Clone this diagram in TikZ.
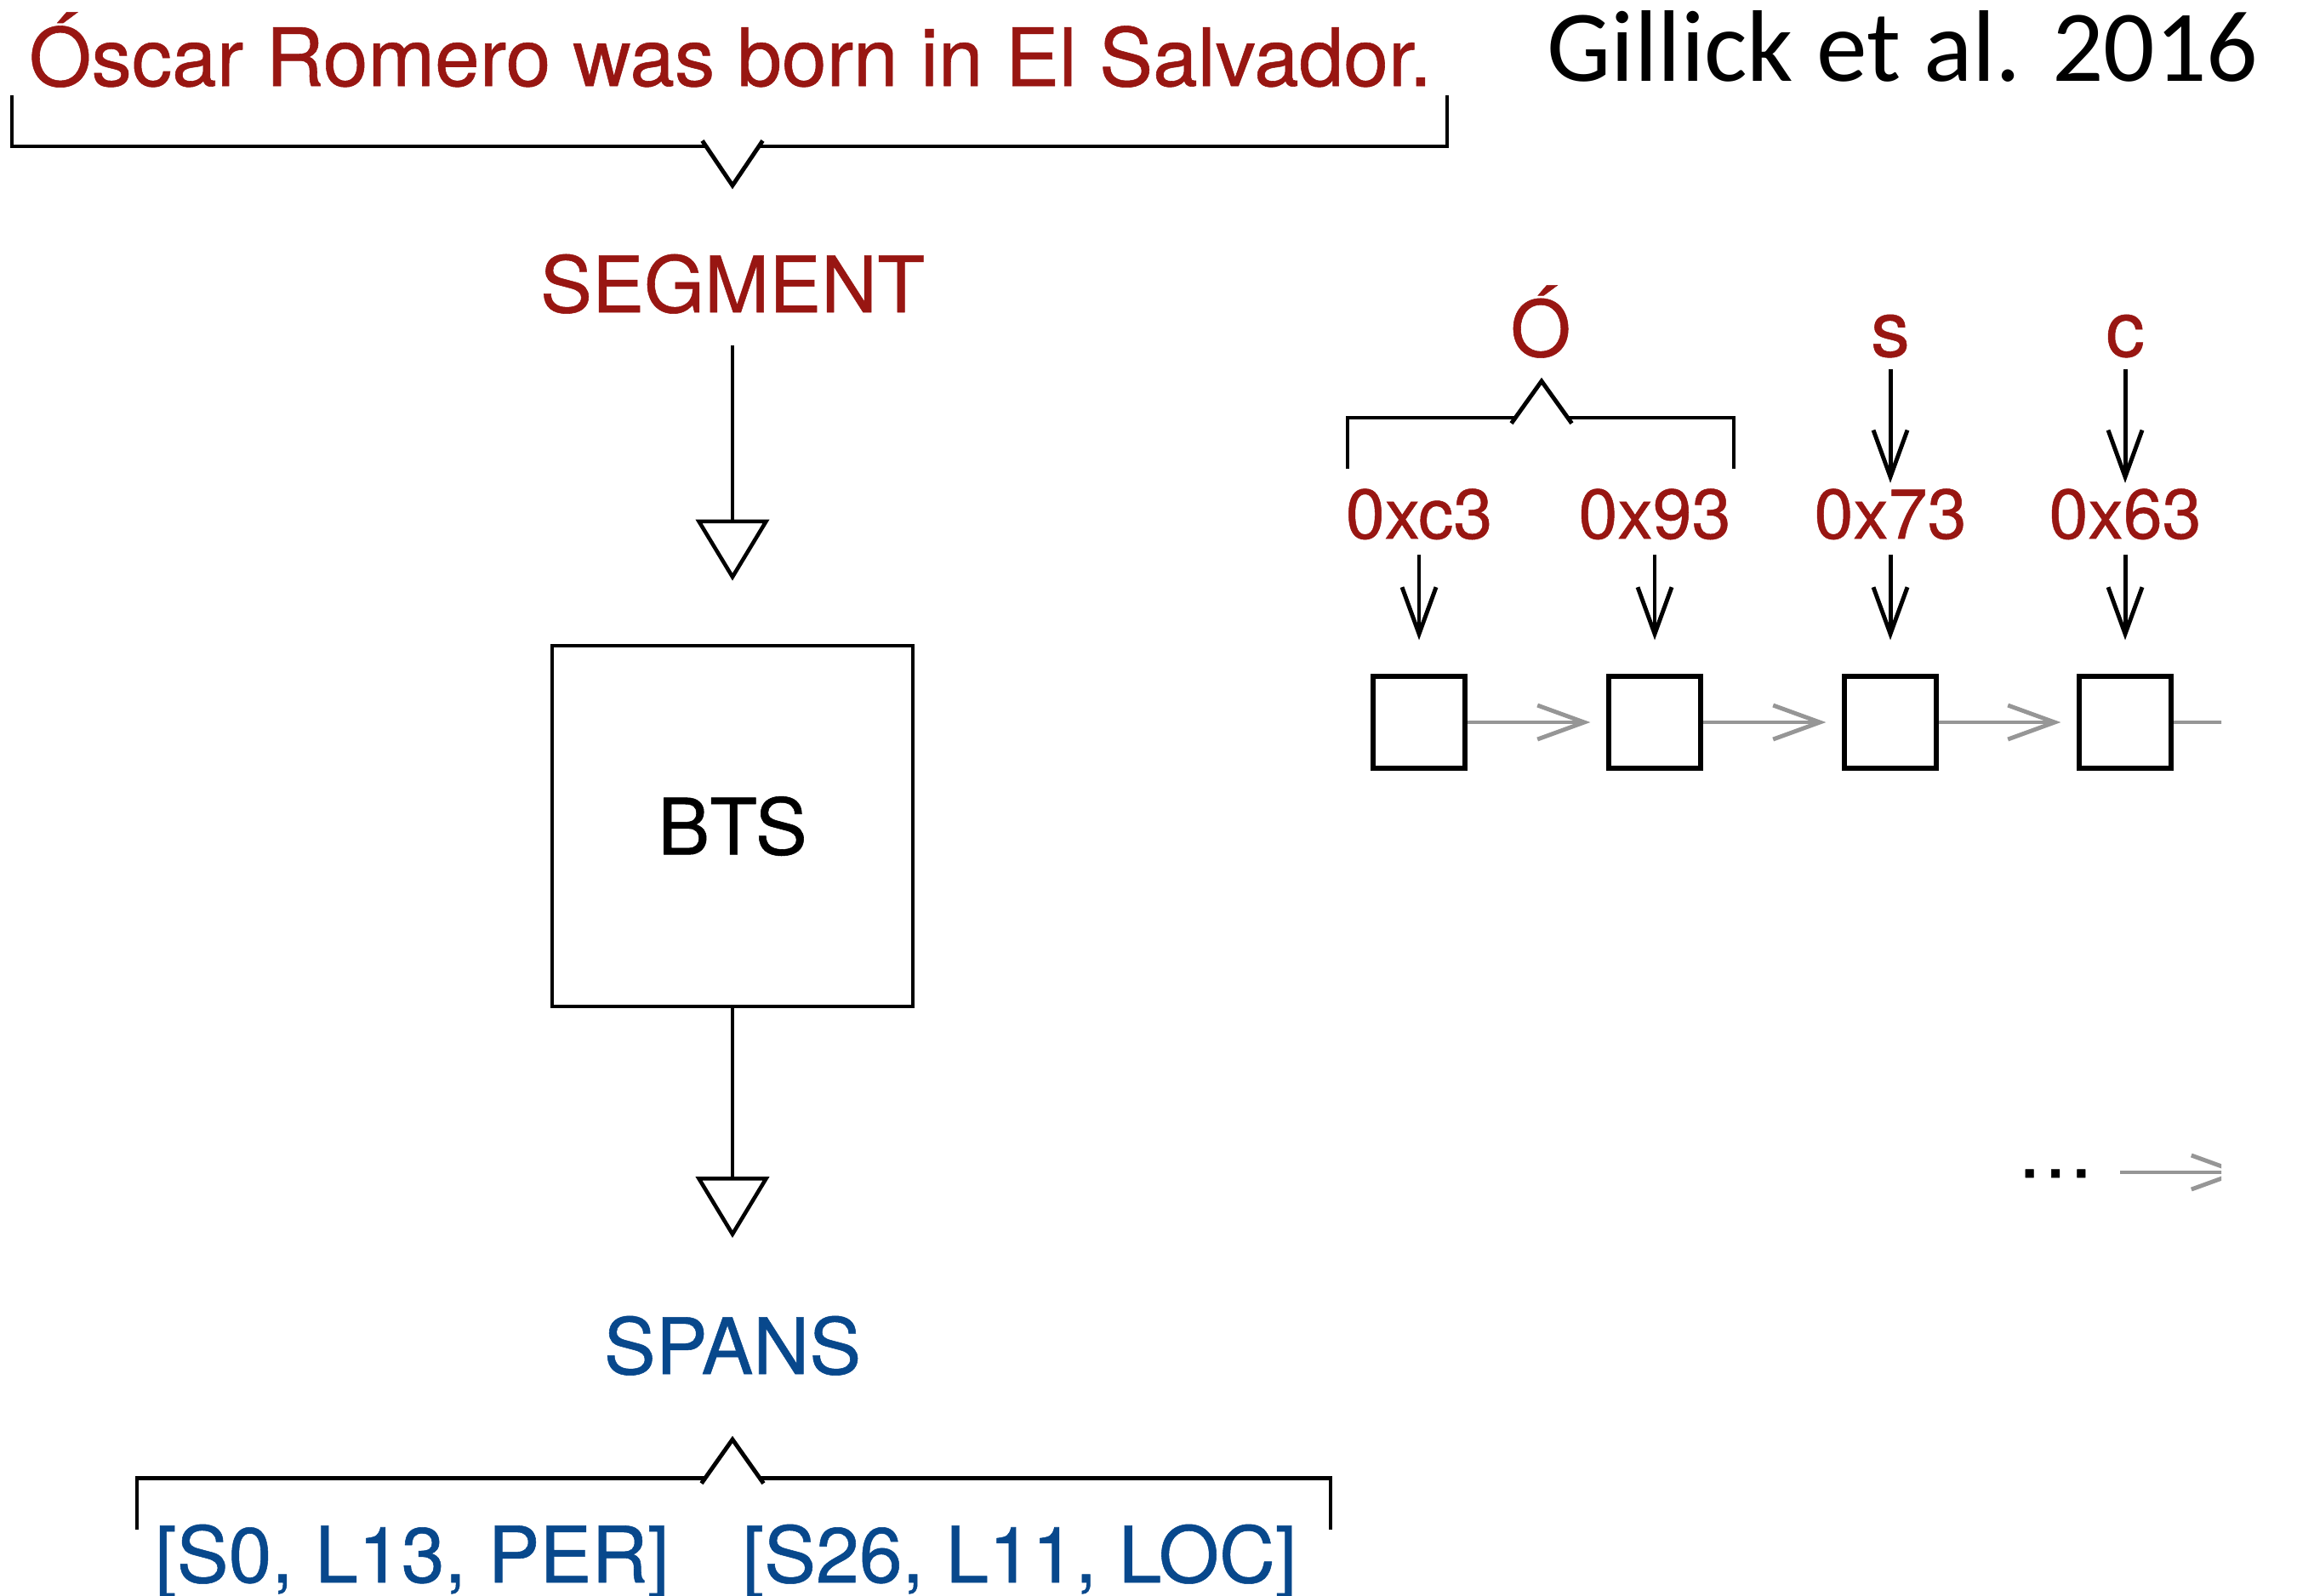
\documentclass[tikz,border=0pt]{standalone}
\usepackage{fontspec}
\setmainfont{TeX Gyre Heros}[FakeBold=0.6]
\newfontfamily\citefont{Carlito}
\usepackage{xcolor}
\usepackage{tikz}
\usetikzlibrary{arrows.meta}

\definecolor{segred}{RGB}{152,22,18}
\definecolor{spanblue}{RGB}{8,72,140}
\definecolor{linkgray}{RGB}{150,150,150}

\begin{document}
\begin{tikzpicture}[
    redtxt/.style={text=segred, inner sep=0pt, anchor=base, font=\fontsize{26}{30}\selectfont},
    bluetxt/.style={text=spanblue, inner sep=0pt, anchor=base, font=\fontsize{26}{30}\selectfont},
    hextxt/.style={text=segred, inner sep=0pt, anchor=base, font=\fontsize{23.5}{28}\selectfont},
    model/.style={rectangle, draw=black, line width=1.4pt, minimum size=4.24cm, inner sep=0pt, font=\fontsize{26}{30}\selectfont},
    cell/.style={rectangle, draw=black, line width=1.5pt, minimum size=1.08cm, inner sep=0pt},
    bracket/.style={draw=black, line width=1.4pt},
    flow/.style={-{Triangle[open, length=0.72cm, width=0.86cm]}, line width=1.3pt},
    byte/.style={-{Straight Barb[length=0.55cm, width=0.40cm]}, line width=1.4pt},
    chain/.style={-{Straight Barb[length=0.55cm, width=0.40cm]}, line width=1.4pt, draw=linkgray, shorten >=0.19cm}
]
\useasboundingbox (0,0) rectangle (27,-18.75);

% Sentence and citation
\node[redtxt, font=\fontsize{26.9}{31}\selectfont] (sent) at (8.585,-1.01) {Óscar Romero was born in El Salvador.};
\node[anchor=base, inner sep=0pt, font=\citefont\fontsize{34}{40}\selectfont] (cite) at (22.365,-0.95) {Gillick et al. 2016};

% Sentence brace
\draw[bracket] (0.14,-1.12) -- (0.14,-1.72) -- (8.30,-1.72);
\draw[bracket] (8.92,-1.72) -- (17.01,-1.72) -- (17.01,-1.12);
\draw[bracket] (8.255,-1.654) -- (8.61,-2.18) -- (8.965,-1.654);

% Pipeline
\node[redtxt] (seg) at (8.61,-3.67) {SEGMENT};
\node[model] (bts) at (8.61,-9.71) {BTS};
\node[bluetxt] (spans) at (8.61,-16.15) {SPANS};

\draw[flow, shorten <=0.37cm, shorten >=0.74cm] (seg) -- (bts);
\draw[flow, shorten >=0.91cm] (bts) -- (spans);

% Span brace
\draw[bracket] (1.61,-17.98) -- (1.61,-17.37) -- (8.29,-17.37);
\draw[bracket] (8.93,-17.37) -- (15.64,-17.37) -- (15.64,-17.98);
\draw[bracket] (8.245,-17.436) -- (8.61,-16.92) -- (8.975,-17.436);

\node[bluetxt] (span1) at (4.845,-18.60) {[S0, L13, PER]};
\node[bluetxt] (span2) at (11.985,-18.60) {[S26, L11, LOC]};

% Characters
\node[redtxt] (chO) at (18.11,-4.19) {Ó};
\node[redtxt] (chs) at (22.22,-4.19) {s};
\node[redtxt] (chc) at (24.98,-4.19) {c};

% Byte brace
\draw[bracket] (15.84,-5.51) -- (15.84,-4.91) -- (17.81,-4.91);
\draw[bracket] (18.43,-4.91) -- (20.38,-4.91) -- (20.38,-5.51);
\draw[bracket] (17.765,-4.976) -- (18.12,-4.48) -- (18.475,-4.976);

% Bytes
\node[hextxt] (h1) at (16.68,-6.33) {0xc3};
\node[hextxt] (h2) at (19.45,-6.33) {0x93};
\node[hextxt] (h3) at (22.22,-6.33) {0x73};
\node[hextxt] (h4) at (24.98,-6.33) {0x63};

\draw[byte, shorten <=0.13cm, shorten >=0.06cm] (chs) -- (h3);
\draw[byte, shorten <=0.13cm, shorten >=0.06cm] (chc) -- (h4);

% Cells
\node[cell] (c1) at (16.68,-8.49) {};
\node[cell] (c2) at (19.45,-8.49) {};
\node[cell] (c3) at (22.22,-8.49) {};
\node[cell] (c4) at (24.98,-8.49) {};

\draw[byte, shorten <=0.17cm, shorten >=0.40cm] (h1) -- (c1);
\draw[byte, shorten <=0.17cm, shorten >=0.40cm] (h2) -- (c2);
\draw[byte, shorten <=0.17cm, shorten >=0.40cm] (h3) -- (c3);
\draw[byte, shorten <=0.17cm, shorten >=0.40cm] (h4) -- (c4);

\node[anchor=base, inner sep=0pt, font=\fontsize{26}{30}\selectfont] (dots) at (24.16,-13.84) {…};
\coordinate (c5) at (27.75,-8.49);
\coordinate (more) at (26.57,-13.78);

% Links (cut at the right edge)
\begin{scope}
\clip (0,0) rectangle (26.11,-18.75);
\draw[chain] (c1) -- (c2);
\draw[chain] (c2) -- (c3);
\draw[chain] (c3) -- (c4);
\draw[chain] (c4) -- (c5);
\draw[chain, shorten <=0.3cm] (dots.east |- more) -- (more);
\end{scope}

\end{tikzpicture}
\end{document}
